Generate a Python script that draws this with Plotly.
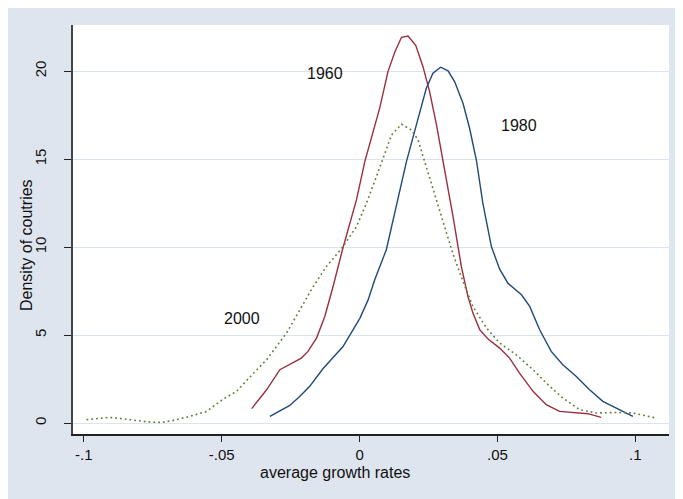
import plotly.graph_objects as go

# ---- data ----
x1960 = [-0.0391, -0.0337, -0.0289, -0.0253, -0.0211, -0.0187, -0.0156, -0.0126, -0.0096, -0.0062,
         -0.0011, 0.0019, 0.0073, 0.0103, 0.0128, 0.0152, 0.0176, 0.0204, 0.0230, 0.0254, 0.0279,
         0.0303, 0.0339, 0.0369, 0.0393, 0.0411, 0.0436, 0.0466, 0.0508, 0.0544, 0.0580, 0.0629,
         0.0677, 0.0725, 0.0786, 0.0828, 0.0876]
d1960 = [0.82, 1.89, 3.03, 3.32, 3.69, 4.07, 4.83, 6.06, 7.76, 9.85,
         12.7, 14.86, 17.9, 19.98, 21.1, 21.93, 22.0, 21.46, 20.26, 18.84, 16.95,
         14.86, 11.74, 8.9, 7.19, 6.25, 5.3, 4.77, 4.26, 3.69, 2.84, 1.8,
         1.04, 0.66, 0.57, 0.53, 0.32]

x1980 = [-0.0325, -0.0253, -0.0217, -0.0180, -0.0156, -0.0132, -0.0060, 0.0001, 0.0031, 0.0055,
         0.0097, 0.0140, 0.0170, 0.0206, 0.0242, 0.0266, 0.0294, 0.0321, 0.0345, 0.0375, 0.0399,
         0.0424, 0.0447, 0.0478, 0.0508, 0.0538, 0.0587, 0.0617, 0.0653, 0.0695, 0.0737, 0.0786,
         0.0834, 0.0882, 0.0943, 0.0991]
d1980 = [0.38, 1.0, 1.51, 2.1, 2.6, 3.1, 4.35, 5.95, 7.0, 8.14,
         9.85, 12.7, 14.86, 16.95, 19.03, 19.89, 20.23, 20.02, 19.4, 18.18, 16.76,
         14.9, 12.5, 10.03, 8.75, 7.95, 7.29, 6.63, 5.3, 4.07, 3.31, 2.65,
         1.89, 1.23, 0.76, 0.38]

x2000 = [-0.0990, -0.0905, -0.0857, -0.0772, -0.0718, -0.0676, -0.0615, -0.0555, -0.0495, -0.0446,
         -0.0407, -0.0337, -0.0265, -0.0217, -0.0168, -0.0120, -0.0066, -0.0011, 0.0025, 0.0061,
         0.0095, 0.0116, 0.0152, 0.0188, 0.0212, 0.0236, 0.0260, 0.0303, 0.0339, 0.0375, 0.0411,
         0.0460, 0.0508, 0.0568, 0.0629, 0.0677, 0.0737, 0.0798, 0.0858, 0.0931, 0.0991, 0.1076]
d2000 = [0.19, 0.32, 0.24, 0.07, 0.03, 0.15, 0.38, 0.66, 1.35, 1.8,
         2.46, 3.6, 5.11, 6.44, 7.76, 8.9, 9.9, 11.17, 12.5, 14.01,
         15.5, 16.38, 16.99, 16.66, 16.1, 14.86, 13.6, 11.36, 9.6, 8.05, 6.63,
         5.4, 4.55, 3.88, 3.03, 2.27, 1.42, 0.76, 0.57, 0.6, 0.57, 0.28]

x_ticks = [-0.1, -0.05, 0, 0.05, 0.1]
x_tick_labels = ["-.1", "-.05", "0", ".05", ".1"]
y_ticks = [0, 5, 10, 15, 20]
y_tick_labels = ["0", "5", "10", "15", "20"]

labels = ["1960", "1980", "2000"]
label_x = [-0.0126, 0.0577, -0.0428]
label_y = [19.9, 16.9, 5.97]

# ---- style ----
BG = "#dfe5ee"
GRID = "#dbe3ef"
C1960 = "#9a2f3f"
C1980 = "#1f4a7c"
C2000 = "#5d7f36"
FONT = "Liberation Sans, Arial, sans-serif"

fig = go.Figure()
fig.add_trace(go.Scatter(x=x1960, y=d1960, mode="lines", line=dict(color=C1960, width=1.4), showlegend=False))
fig.add_trace(go.Scatter(x=x1980, y=d1980, mode="lines", line=dict(color=C1980, width=1.4), showlegend=False))
fig.add_trace(go.Scatter(x=x2000, y=d2000, mode="lines",
                         line=dict(color=C2000, width=1.6, dash="1.8px,3px"), showlegend=False))

for t, xx, yy in zip(labels, label_x, label_y):
    fig.add_annotation(x=xx, y=yy, text=t, showarrow=False, xanchor="center", yanchor="middle",
                       font=dict(size=16, color="#111", family=FONT))

# axis titles as annotations (positioned as in the reference)
fig.add_annotation(xref="paper", yref="paper", x=0.4396, y=-0.095, text="average growth rates",
                   xanchor="center", yanchor="middle", showarrow=False,
                   font=dict(size=16, color="#111", family=FONT))
fig.add_annotation(xref="paper", yref="paper", x=-0.0789, y=0.462, text="Density of coutries",
                   xanchor="center", yanchor="middle", textangle=-90, showarrow=False,
                   font=dict(size=16, color="#111", family=FONT))

fig.update_layout(
    width=683, height=499,
    margin=dict(l=65, r=22, t=17, b=73),
    paper_bgcolor=BG, plot_bgcolor="white",
    font=dict(family=FONT, size=15, color="#111"),
    xaxis=dict(range=[-0.1039, 0.1122], tickvals=x_ticks, ticktext=x_tick_labels,
               showgrid=False, zeroline=False, showline=True, linecolor="#222", linewidth=1.5,
               ticks="outside", ticklen=6, tickcolor="#222", tickwidth=1.2,
               tickfont=dict(size=15)),
    yaxis=dict(range=[-0.625, 22.63], tickvals=y_ticks, ticktext=y_tick_labels, tickangle=-90,
               showgrid=True, gridcolor=GRID, gridwidth=1, zeroline=False,
               showline=True, linecolor="#444", linewidth=1.5,
               ticks="outside", ticklen=7, tickcolor="#222", tickwidth=1.2,
               tickfont=dict(size=15), ticklabelstandoff=12),
)

fig.write_html("out.html")
